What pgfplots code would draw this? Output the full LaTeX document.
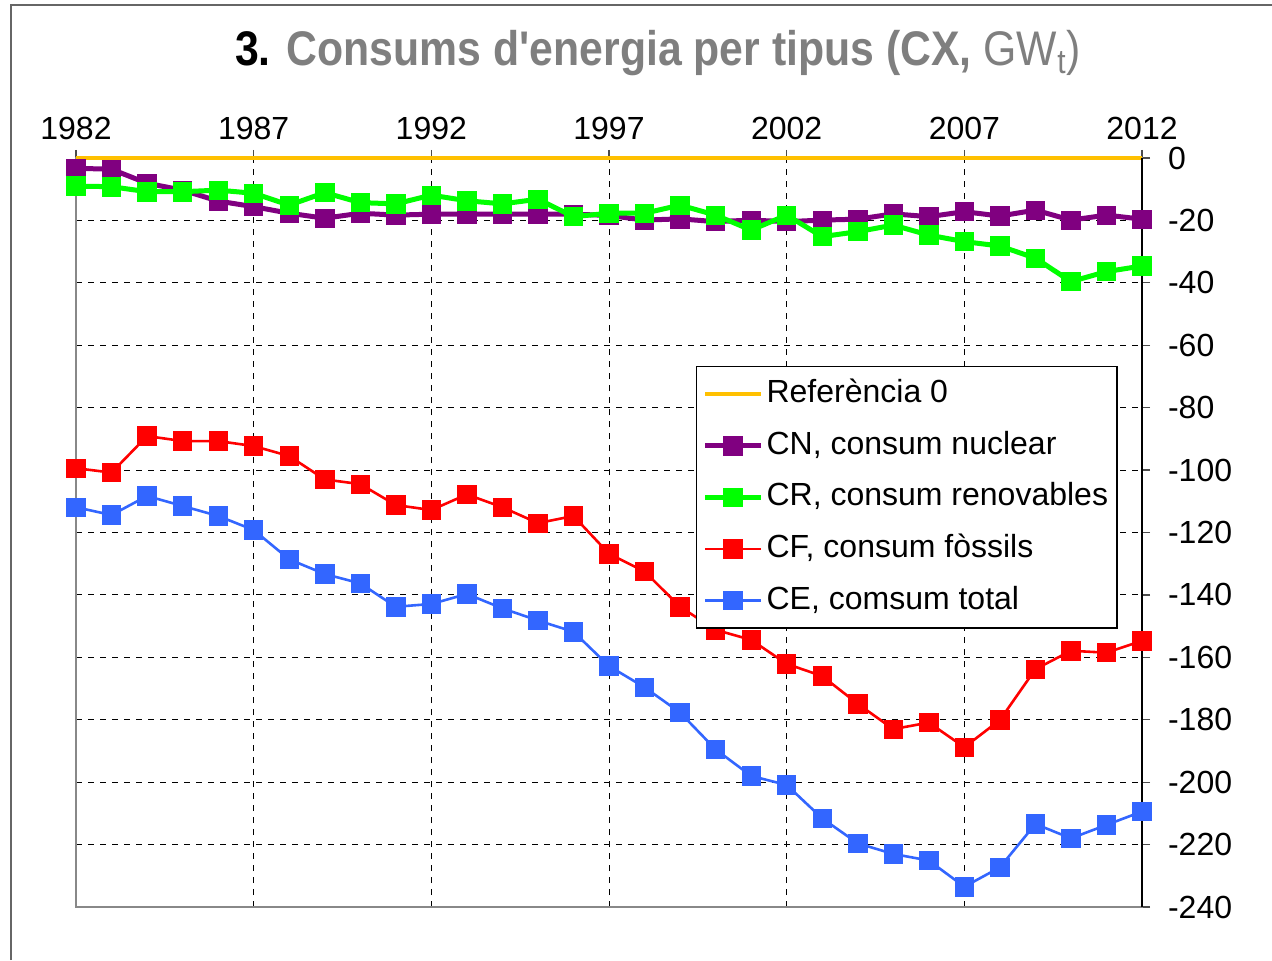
\documentclass[border=0pt]{standalone}
\usepackage{fontspec}
\setmainfont{Liberation Sans}
\newfontfamily\titlefont[FakeStretch=0.88]{Liberation Sans}
\usepackage{pgfplots}
\pgfplotsset{compat=1.18}
\definecolor{cnpurple}{HTML}{800080}
\definecolor{crgreen}{HTML}{00FF00}
\definecolor{cfred}{HTML}{FF0000}
\definecolor{ceblue}{HTML}{3366FF}
\definecolor{reforange}{HTML}{FFC000}
\definecolor{titlegray}{HTML}{7F7F7F}
\definecolor{axgray}{HTML}{888888}
\definecolor{framegray}{HTML}{666666}
\begin{document}
\begin{tikzpicture}
\useasboundingbox (0pt,0pt) rectangle (636pt,480pt);
% outer frame (top and left edges visible)
\draw[framegray, line width=1pt] (5.5pt,0pt) -- (5.5pt,477.5pt) -- (640pt,477.5pt);
% title
\node[anchor=base, inner sep=0pt] at (329pt,447pt) {\titlefont\fontsize{24.3}{24}\selectfont\bfseries 3. \textcolor{titlegray}{Consums d'energia per tipus (CX, \mdseries GW\textsubscript{t})}};
\begin{axis}[
  at={(38pt,26.5pt)}, anchor=south west,
  scale only axis, width=533pt, height=374.5pt,
  xmin=1982, xmax=2012, ymin=-240, ymax=0,
  clip=false,
  axis line style={draw=axgray, line width=1.2pt},
  xtick={1982,1987,...,2012},
  xticklabels={1982,1987,1992,1997,2002,2007,2012},
  ytick={-240,-220,...,0},
  yticklabels={-240,-220,-200,-180,-160,-140,-120,-100,-80,-60,-40,-20,0},
  xtick pos=top, xticklabel pos=top,
  ytick pos=right, yticklabel pos=right,
  tick align=outside,
  major tick length=4pt,
  tick style={draw=black!70, line width=0.6pt},
  ticklabel style={font=\fontsize{16}{16}\selectfont},
  xticklabel style={yshift=1.5pt},
  yticklabel style={xshift=5.5pt},
  grid=major,
  major grid style={dashed, black, line width=0.5pt},
  legend cell align=left,
  legend style={at={(0.5816,0.7223)}, anchor=north west,
    draw=black, line width=0.6pt,
    font=\fontsize{16}{16}\selectfont,
    row sep=6.3pt, inner xsep=3pt, inner ysep=4pt,
    nodes={text height=12pt, text depth=3.5pt, inner ysep=2pt, inner xsep=1.5pt}},
  legend image code/.code={\draw[mark repeat=2, mark phase=2, #1] plot coordinates {(0pt,0pt) (14pt,0pt) (28pt,0pt)};},
]
\addplot[reforange, line width=2pt, forget plot] coordinates {(1982,0) (2012,0)};
\addlegendimage{reforange, line width=2pt}
\addlegendentry{Referència 0}
\addplot[cnpurple, line width=2.5pt, mark=square*, mark size=4.6pt, mark options={solid, line width=0.4pt, fill=cnpurple}] coordinates {
(1982,-3.3) (1983,-3.6) (1984,-8.1) (1985,-10.3) (1986,-13.8) (1987,-15.6)
(1988,-17.7) (1989,-19.3) (1990,-17.7) (1991,-18.3) (1992,-18.0) (1993,-18.0)
(1994,-18.0) (1995,-18.0) (1996,-18.0) (1997,-18.4) (1998,-19.9) (1999,-19.5)
(2000,-20.4) (2001,-19.9) (2002,-20.4) (2003,-19.9) (2004,-19.6) (2005,-17.9)
(2006,-18.8) (2007,-17.2) (2008,-18.6) (2009,-16.7) (2010,-19.9) (2011,-18.3)
(2012,-19.6)};
\addlegendentry{CN, consum nuclear}
\addplot[crgreen, line width=2.5pt, mark=square*, mark size=4.6pt, mark options={solid, line width=0.4pt, fill=crgreen}] coordinates {
(1982,-9.0) (1983,-9.2) (1984,-10.8) (1985,-10.8) (1986,-10.3) (1987,-11.3)
(1988,-15.1) (1989,-11.1) (1990,-14.3) (1991,-14.7) (1992,-11.9) (1993,-13.7)
(1994,-14.7) (1995,-13.2) (1996,-18.8) (1997,-17.7) (1998,-17.7) (1999,-15.1)
(2000,-18.3) (2001,-23.1) (2002,-18.3) (2003,-25.2) (2004,-23.6) (2005,-21.5)
(2006,-24.7) (2007,-26.8) (2008,-28.2) (2009,-32.1) (2010,-39.6) (2011,-36.4)
(2012,-34.6)};
\addlegendentry{CR, consum renovables}
\addplot[cfred, line width=1.3pt, mark=square*, mark size=4.6pt, mark options={solid, line width=0.4pt, fill=cfred}] coordinates {
(1982,-99.4) (1983,-100.8) (1984,-89.1) (1985,-90.7) (1986,-90.7) (1987,-92.3)
(1988,-95.5) (1989,-103.0) (1990,-104.5) (1991,-111.2) (1992,-112.8) (1993,-107.8)
(1994,-111.9) (1995,-117.0) (1996,-114.7) (1997,-126.8) (1998,-132.5) (1999,-143.8)
(2000,-151.2) (2001,-154.4) (2002,-162.1) (2003,-166.0) (2004,-174.9) (2005,-183.0)
(2006,-180.9) (2007,-188.8) (2008,-180.1) (2009,-163.8) (2010,-157.9) (2011,-158.5)
(2012,-154.7)};
\addlegendentry{CF, consum fòssils}
\addplot[ceblue, line width=1.3pt, mark=square*, mark size=4.6pt, mark options={solid, line width=0.4pt, fill=ceblue}] coordinates {
(1982,-111.9) (1983,-114.4) (1984,-108.3) (1985,-111.5) (1986,-114.7) (1987,-119.2)
(1988,-128.6) (1989,-133.3) (1990,-136.3) (1991,-143.8) (1992,-142.9) (1993,-139.7)
(1994,-144.3) (1995,-148.2) (1996,-151.8) (1997,-162.8) (1998,-169.6) (1999,-177.7)
(2000,-189.5) (2001,-198.0) (2002,-200.9) (2003,-211.6) (2004,-219.6) (2005,-223.0)
(2006,-225.1) (2007,-233.5) (2008,-227.3) (2009,-213.4) (2010,-218.0) (2011,-213.7)
(2012,-209.4)};
\addlegendentry{CE, comsum total}
\draw[black, line width=0.9pt] (rel axis cs:1,0) -- (rel axis cs:1,1);
\end{axis}
\end{tikzpicture}
\end{document}
